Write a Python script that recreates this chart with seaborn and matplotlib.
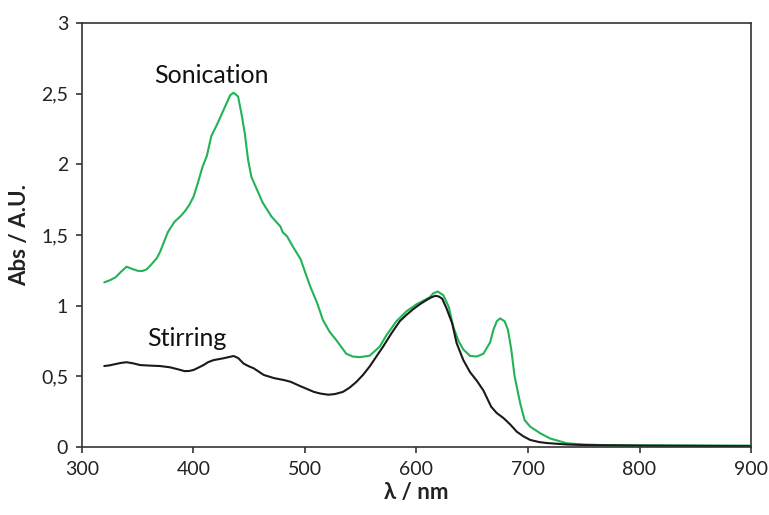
import matplotlib
matplotlib.use("Agg")
import matplotlib.pyplot as plt
import seaborn as sns
import pandas as pd
from matplotlib.ticker import FuncFormatter

# Absorption spectra (wavelength in nm, absorbance in A.U.)
sonication_nm = [320, 325, 330, 335, 340, 345, 350, 354, 358, 362, 367, 370, 373, 377, 383,
                 388, 392, 396, 400, 404, 408, 412, 416, 421, 427, 433, 436, 440, 443, 446,
                 449, 452, 457, 462, 470, 478, 480, 484, 489, 496, 500, 505, 511, 516, 522,
                 528, 537, 543, 549, 558, 567, 573, 582, 591, 600, 606, 612, 615, 619, 624,
                 629, 633, 638, 642, 648, 654, 660, 666, 669, 672, 675, 679, 682, 685, 688,
                 693, 697, 702, 711, 720, 735, 750, 765, 800, 850, 900]
sonication_abs = [1.165, 1.18, 1.20, 1.24, 1.276, 1.26, 1.247, 1.245, 1.257, 1.29, 1.335,
                  1.38, 1.44, 1.52, 1.594, 1.63, 1.665, 1.71, 1.77, 1.87, 1.98, 2.06, 2.20,
                  2.28, 2.385, 2.49, 2.507, 2.48, 2.36, 2.22, 2.03, 1.91, 1.82, 1.73, 1.63,
                  1.56, 1.52, 1.49, 1.42, 1.33, 1.24, 1.13, 1.017, 0.90, 0.816, 0.757, 0.66,
                  0.64, 0.636, 0.646, 0.71, 0.79, 0.89, 0.96, 1.01, 1.035, 1.06, 1.087, 1.10,
                  1.075, 0.99, 0.85, 0.745, 0.69, 0.645, 0.64, 0.66, 0.74, 0.83, 0.89, 0.91,
                  0.89, 0.83, 0.69, 0.50, 0.31, 0.19, 0.144, 0.097, 0.06, 0.026, 0.018,
                  0.014, 0.012, 0.011, 0.01]

stirring_nm = [320, 325, 330, 335, 340, 346, 352, 361, 370, 379, 386, 392, 396, 400, 404,
               409, 413, 418, 427, 432, 436, 440, 445, 450, 454, 463, 472, 481, 487, 496,
               502, 508, 514, 521, 527, 534, 540, 546, 552, 558, 564, 570, 578, 585, 591,
               597, 603, 609, 613, 617, 620, 623, 627, 632, 636, 642, 648, 654, 660, 667,
               672, 678, 684, 690, 696, 702, 710, 717, 735, 750, 800, 900]
stirring_abs = [0.573, 0.578, 0.587, 0.595, 0.60, 0.592, 0.58, 0.576, 0.573, 0.564, 0.55,
                0.537, 0.538, 0.545, 0.56, 0.58, 0.60, 0.615, 0.628, 0.637, 0.644, 0.63,
                0.59, 0.57, 0.557, 0.51, 0.488, 0.474, 0.462, 0.43, 0.41, 0.39, 0.378, 0.37,
                0.375, 0.39, 0.42, 0.46, 0.51, 0.57, 0.64, 0.71, 0.81, 0.89, 0.935, 0.975,
                1.01, 1.04, 1.058, 1.07, 1.065, 1.05, 0.98, 0.875, 0.735, 0.615, 0.53, 0.47,
                0.40, 0.285, 0.24, 0.205, 0.16, 0.108, 0.075, 0.05, 0.035, 0.028, 0.018,
                0.014, 0.01, 0.006]

x_ticks = [300, 400, 500, 600, 700, 800, 900]
y_ticks = [0, 0.5, 1, 1.5, 2, 2.5, 3]

sns.set_theme(style="white")
plt.rcParams["font.family"] = ["Lato", "DejaVu Sans"]

fig = plt.figure(figsize=(7.69, 5.15), dpi=100)
ax = fig.add_axes([0.1066, 0.132, 0.870, 0.8233])

son = pd.DataFrame({"nm": sonication_nm, "abs": sonication_abs})
sti = pd.DataFrame({"nm": stirring_nm, "abs": stirring_abs})
sns.lineplot(data=son, x="nm", y="abs", ax=ax, color="#22b357", linewidth=1.5)
sns.lineplot(data=sti, x="nm", y="abs", ax=ax, color="#1a1a1a", linewidth=1.5)

ax.set_xlim(300, 900)
ax.set_ylim(0, 3)
ax.set_xticks(x_ticks)
ax.set_yticks(y_ticks)
ax.yaxis.set_major_formatter(FuncFormatter(lambda v, _: f"{v:g}".replace(".", ",")))

for s in ax.spines.values():
    s.set_color("#333333")
    s.set_linewidth(1.2)
ax.tick_params(axis="both", which="major", direction="out", length=4, width=1.2,
               color="#333333", labelsize=14, labelcolor="#222222",
               bottom=True, left=True, top=False, right=False, pad=6)

ax.set_xlabel("λ / nm", fontsize=16, fontweight="bold", color="#222222", labelpad=3)
ax.set_ylabel("Abs / A.U.", fontsize=16, fontweight="bold", color="#222222", labelpad=8)

ax.text(416, 2.63, "Sonication", fontsize=18, ha="center", va="center", color="#111111")
ax.text(394, 0.77, "Stirring", fontsize=18, ha="center", va="center", color="#111111")

fig.savefig("out.png", dpi=100)
